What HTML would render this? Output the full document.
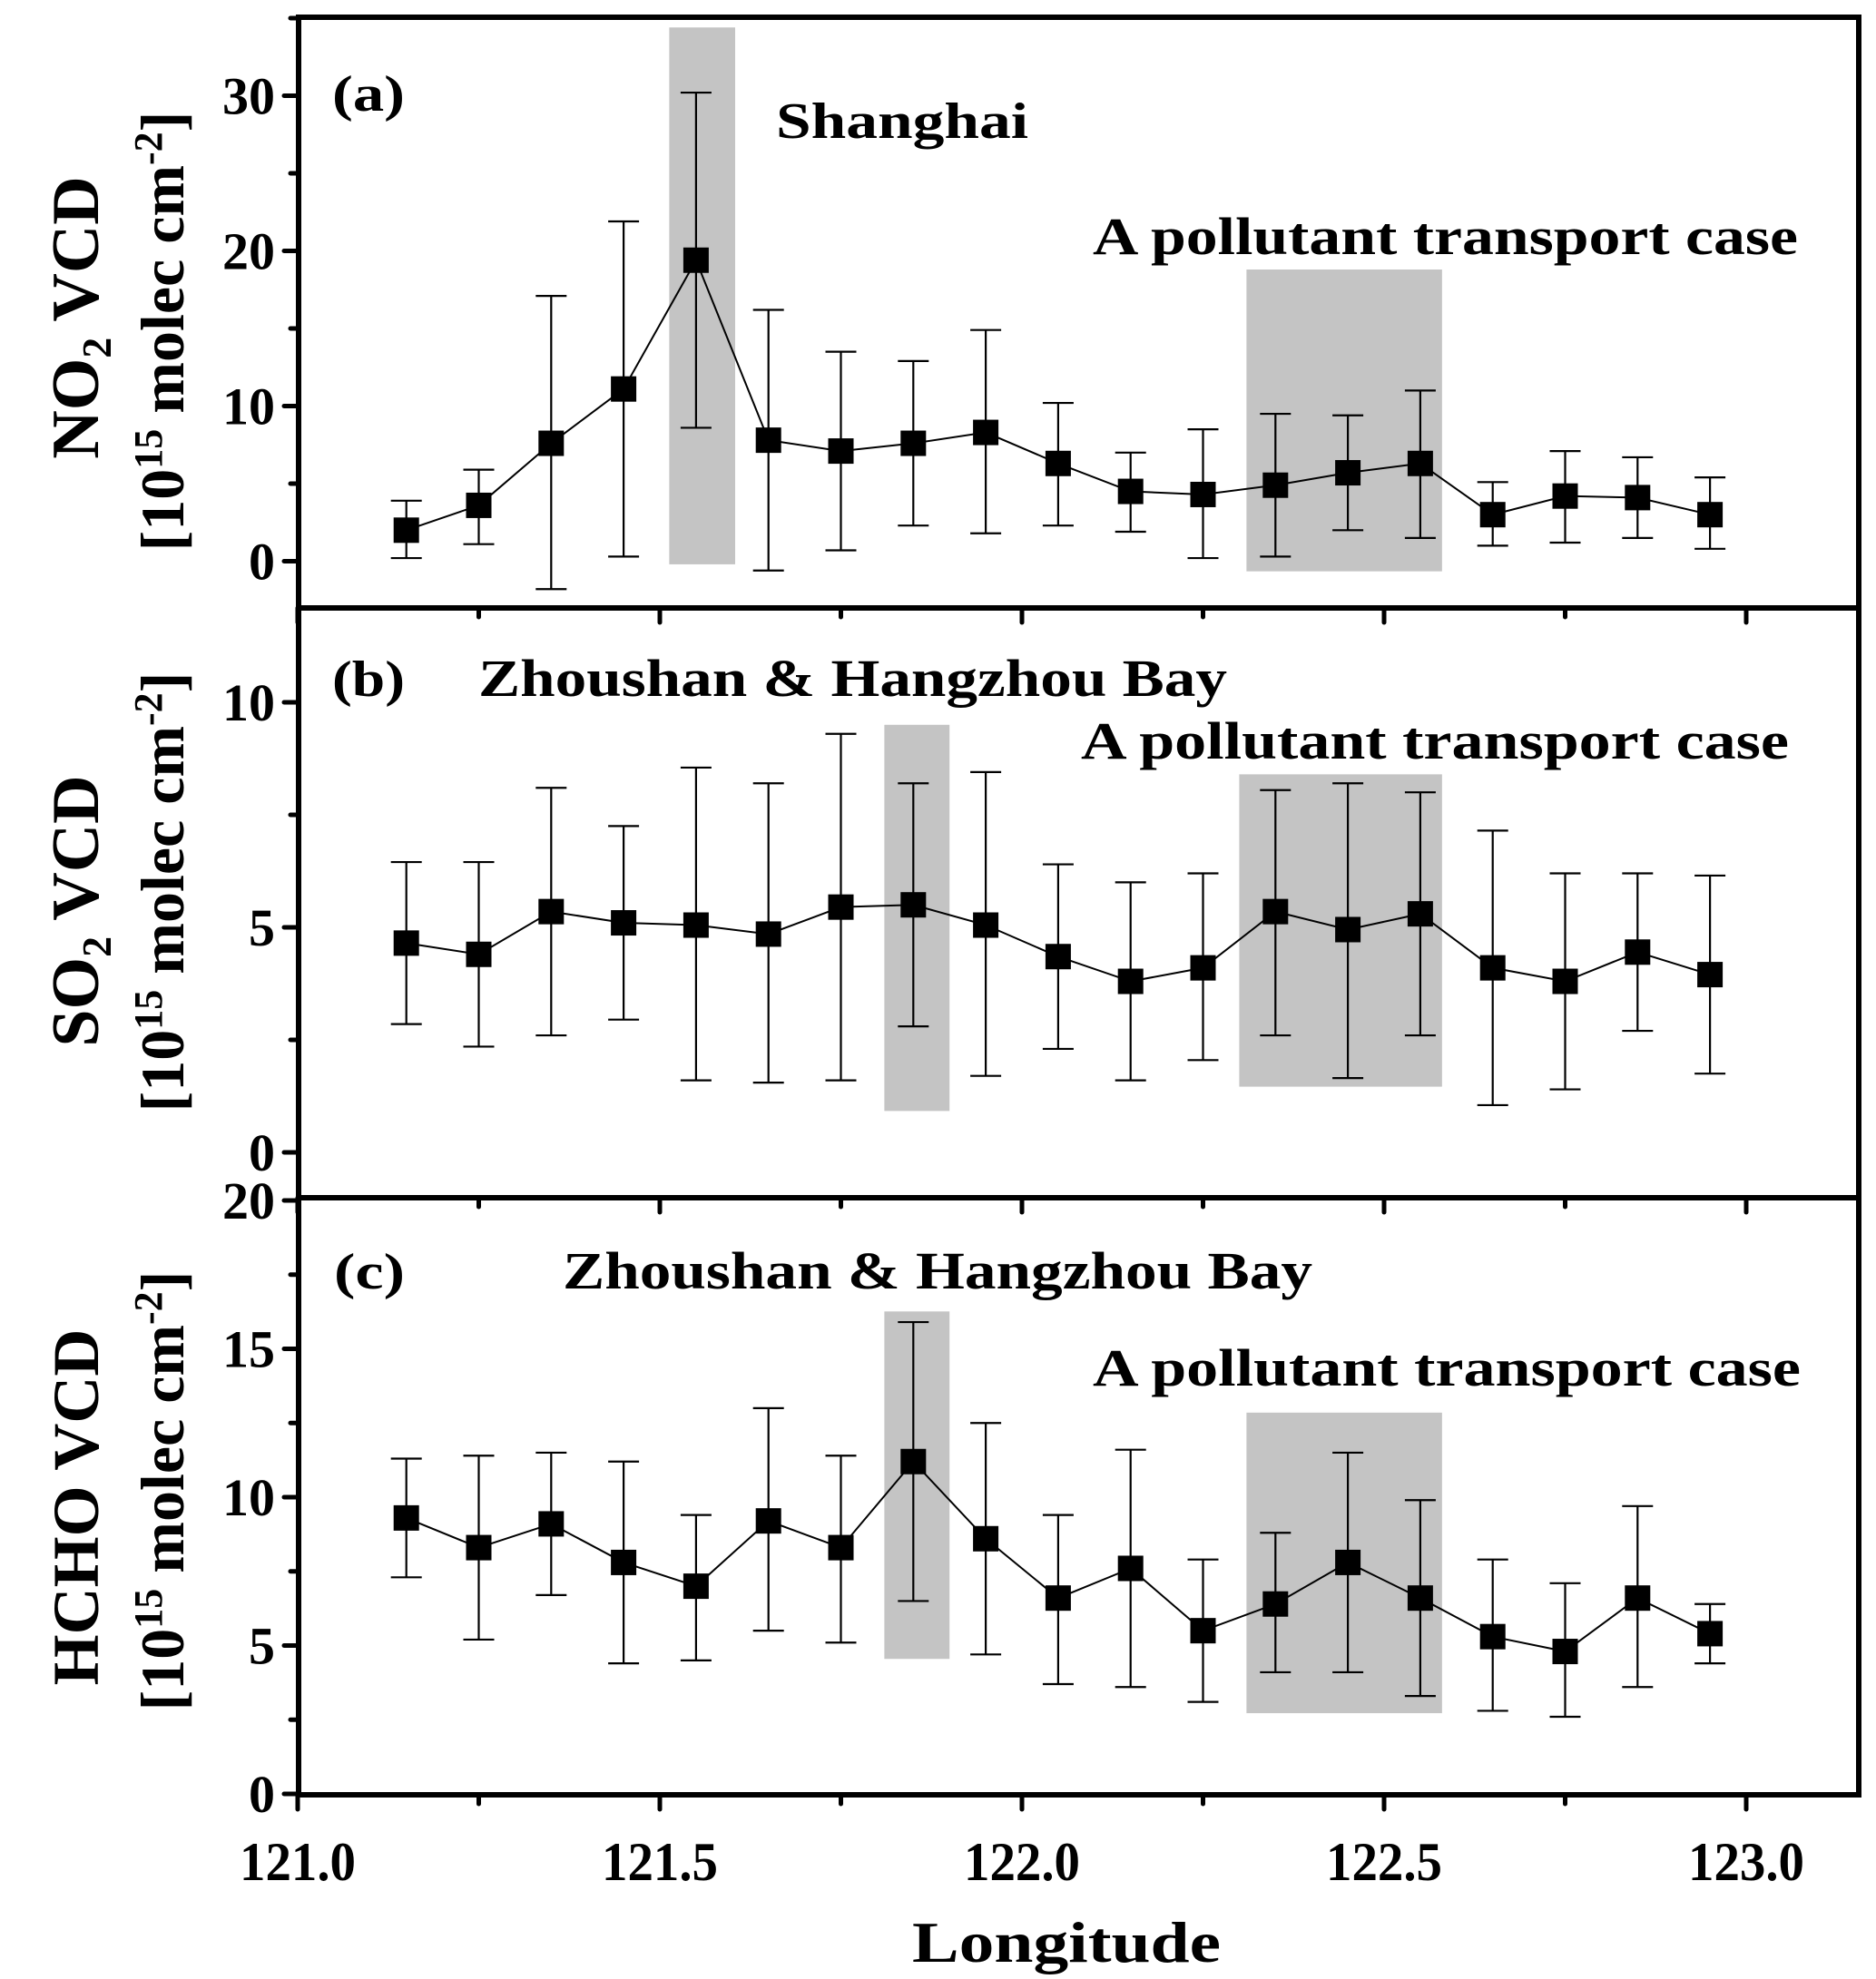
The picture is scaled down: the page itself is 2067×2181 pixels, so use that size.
<!DOCTYPE html>
<html><head><meta charset="utf-8"><style>html,body{margin:0;padding:0;background:#fff}svg{display:block}text{font-family:"Liberation Serif",serif;font-weight:bold;fill:#000}</style></head>
<body>
<svg id="chart" width="2067" height="2181" viewBox="0 0 2067 2181" xmlns="http://www.w3.org/2000/svg"></svg>
<script>
const longitudes=[121.15,121.25,121.35,121.45,121.55,121.65,121.75,121.85,121.95,122.05,122.15,122.25,122.35,122.45,122.55,122.65,122.75,122.85,122.95];
const no2Values=[2.0,3.6,7.6,11.1,19.4,7.8,7.1,7.6,8.3,6.3,4.5,4.3,4.9,5.7,6.3,3.0,4.2,4.1,3.0];
const no2Low=[0.2,1.1,-1.8,0.3,8.6,-0.6,0.7,2.3,1.8,2.3,1.9,0.2,0.3,2.0,1.5,1.0,1.2,1.5,0.8];
const no2High=[3.9,5.9,17.1,21.9,30.2,16.2,13.5,12.9,14.9,10.2,7.0,8.5,9.5,9.4,11.0,5.1,7.1,6.7,5.4];
const so2Values=[4.65,4.4,5.35,5.1,5.05,4.85,5.45,5.5,5.05,4.35,3.8,4.1,5.35,4.95,5.3,4.1,3.8,4.45,3.95];
const so2Low=[2.85,2.35,2.6,2.95,1.6,1.55,1.6,2.8,1.7,2.3,1.6,2.05,2.6,1.65,2.6,1.05,1.4,2.7,1.75];
const so2High=[6.45,6.45,8.1,7.25,8.55,8.2,9.3,8.2,8.45,6.4,6.0,6.2,8.05,8.2,8.0,7.15,6.2,6.2,6.15];
const hchoValues=[9.3,8.3,9.1,7.8,7.0,9.2,8.3,11.2,8.6,6.6,7.6,5.5,6.4,7.8,6.6,5.3,4.8,6.6,5.4];
const hchoLow=[7.3,5.2,6.7,4.4,4.5,5.5,5.1,6.5,4.7,3.7,3.6,3.1,4.1,4.1,3.3,2.8,2.6,3.6,4.4];
const hchoHigh=[11.3,11.4,11.5,11.2,9.4,13.0,11.4,15.9,12.5,9.4,11.6,7.9,8.8,11.5,9.9,7.9,7.1,9.7,6.4];
const xTickLabels=["121.0","121.5","122.0","122.5","123.0"];
const xTickValues=[121.0,121.5,122.0,122.5,123.0];

const svg=document.getElementById('chart');
const NS='http://www.w3.org/2000/svg';
function mk(tag,attrs,parent){const e=document.createElementNS(NS,tag);for(const k in attrs)e.setAttribute(k,attrs[k]);(parent||svg).appendChild(e);return e;}
const L=329,R=2048;
const X=v=>328+(v-121.0)*798;

const panels=[
 {id:'a',top:19,bottom:670,y0:618.5,ppu:17.1,vals:no2Values,lo:no2Low,hi:no2High,ticks:[0,10,20,30],minor:5,major:10,ymin:-3,
  rects:[[121.513,121.604,-0.2,34.4],[122.31,122.58,-0.65,18.8]]},
 {id:'b',top:670,bottom:1320,y0:1270,ppu:49.6,vals:so2Values,lo:so2Low,hi:so2High,ticks:[0,5,10],minor:2.5,major:5,ymin:-1,
  rects:[[121.81,121.90,0.92,9.5],[122.30,122.58,1.46,8.4]]},
 {id:'c',top:1320,bottom:1978,y0:1977,ppu:32.7,vals:hchoValues,lo:hchoLow,hi:hchoHigh,ticks:[0,5,10,15,20],minor:2.5,major:5,ymin:0,
  rects:[[121.81,121.90,4.55,16.26],[122.31,122.58,2.72,12.85]]}
];
panels.forEach(p=>{
 const Y=v=>p.y0-v*p.ppu;
 const g=mk('g',{});
 
 
 p.rects.forEach((r,i)=>{
  const e=mk('rect',{x:X(r[0]),y:Y(r[3]),width:X(r[1])-X(r[0]),height:Y(r[2])-Y(r[3]),fill:'#c4c4c4'},g);
  
  
 });
 const ymax=(p.y0-p.top)/p.ppu;
 for(let v=0;v<=ymax+0.001;v+=p.minor){
  const isMaj=Math.abs(v/p.major-Math.round(v/p.major))<1e-6;
  mk('line',{x1:L,x2:L-(isMaj?16:9),y1:Y(v),y2:Y(v),stroke:'#000','stroke-width':5,'stroke-linecap':'round'},g);
 }
 p.ticks.forEach(v=>{
  const t=mk('text',{x:L-26,y:Y(v)+20,'font-size':58,'text-anchor':'end'},g);t.textContent=v;
  
  
 });
 for(let k=0;k<=8;k++){const v=121+k*0.25;const maj=k%2===0;
  mk('line',{x1:X(v),x2:X(v),y1:p.bottom,y2:p.bottom+(maj?16:10),stroke:'#000','stroke-width':5,'stroke-linecap':'round'},g);}
 const pts=longitudes.map((x,i)=>X(x)+','+Y(p.vals[i])).join(' ');
 const pl=mk('polyline',{points:pts,fill:'none',stroke:'#000','stroke-width':2},g);
 
 
 longitudes.forEach((x,i)=>{
  const cx=X(x);
  const eb=mk('g',{stroke:'#000','stroke-width':2.2},g);
  
  
  const lo=Math.max(p.lo[i],p.ymin);
  mk('line',{x1:cx,x2:cx,y1:Y(lo),y2:Y(p.hi[i])},eb);
  mk('line',{x1:cx-17,x2:cx+17,y1:Y(p.hi[i]),y2:Y(p.hi[i])},eb);
  mk('line',{x1:cx-17,x2:cx+17,y1:Y(lo),y2:Y(lo)},eb);
  const m=mk('rect',{x:cx-14,y:Y(p.vals[i])-14,width:28,height:28,fill:'#000'},g);
  
  
 });
});
const fr=mk('rect',{x:L,y:19,width:R-L,height:1978-19,fill:'none',stroke:'#000','stroke-width':6});


[670,1320].forEach(y=>{const d=mk('line',{x1:L,x2:R,y1:y,y2:y,stroke:'#000','stroke-width':6});
 
 });
xTickValues.forEach((v,i)=>{const t=mk('text',{x:X(v),y:2072,'font-size':60,'text-anchor':'middle'});t.textContent=xTickLabels[i];
 t.setAttribute('textLength',128);t.setAttribute('lengthAdjust','spacingAndGlyphs');
 
 });
function txt(s,x,y,fs,name,len,extra){const t=mk('text',Object.assign({x:x,y:y,'font-size':fs},extra||{}));t.textContent=s;if(len){t.setAttribute('textLength',len);t.setAttribute('lengthAdjust','spacingAndGlyphs');}
 
 return t;}
txt('Longitude',1005,2162,64,'x-axis-title',340);
txt('(a)',366,122,56,'panel-label-a',80);
txt('Shanghai',855,152,56,'annotation-shanghai',278);
txt('A pollutant transport case',1204,280,58,'annotation-transport-a',777);
txt('(b)',366,767,56,'panel-label-b',80);
txt('Zhoushan & Hangzhou Bay',527,767,58,'annotation-zhoushan-b',825);
txt('A pollutant transport case',1191,836,58,'annotation-transport-b',780);
txt('(c)',368,1420,56,'panel-label-c',78);
txt('Zhoushan & Hangzhou Bay',620,1420,58,'annotation-zhoushan-c',826);
txt('A pollutant transport case',1204,1527,58,'annotation-transport-c',780);
function ytitle(html,cx,cy,fs,name){const t=mk('text',{x:0,y:0,'font-size':fs,'text-anchor':'middle',transform:'translate('+cx+','+cy+') rotate(-90)'});t.innerHTML=html;
 
 }
const br='[10<tspan font-size="44" dy="-24">15</tspan><tspan dy="24"> molec cm</tspan><tspan font-size="44" dy="-24">-2</tspan><tspan dy="24">]</tspan>';
ytitle('NO<tspan font-size="46" dy="14">2</tspan><tspan dy="-14"> VCD</tspan>',108,350,74,'y-axis-title-no2');
ytitle(br,202,365,68,'y-axis-unit-no2');
ytitle('SO<tspan font-size="46" dy="14">2</tspan><tspan dy="-14"> VCD</tspan>',108,1004,74,'y-axis-title-so2');
ytitle(br,202,983,68,'y-axis-unit-so2');
ytitle('HCHO VCD',108,1661,72,'y-axis-title-hcho');
ytitle(br,202,1643,68,'y-axis-unit-hcho');
</script>
</body></html>
